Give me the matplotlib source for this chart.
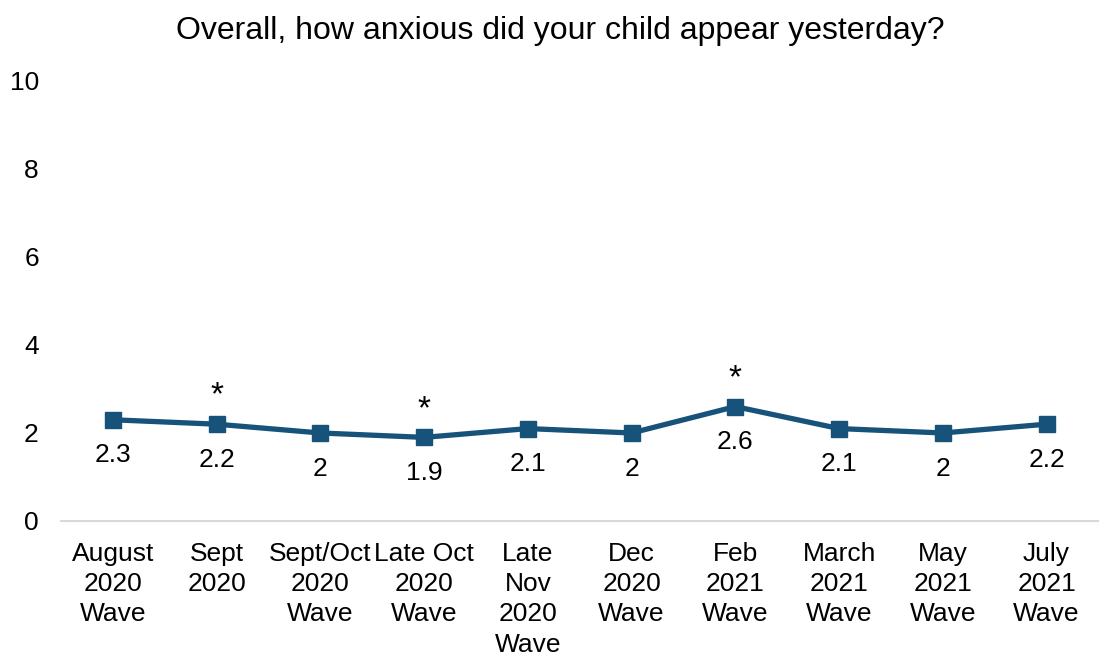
import matplotlib
matplotlib.use("Agg")
import matplotlib.pyplot as plt

waves = ["August\n2020\nWave", "Sept\n2020", "Sept/Oct\n2020\nWave", "Late Oct\n2020\nWave",
         "Late\nNov\n2020\nWave", "Dec\n2020\nWave", "Feb\n2021\nWave", "March\n2021\nWave",
         "May\n2021\nWave", "July\n2021\nWave"]
anxiety = [2.3, 2.2, 2.0, 1.9, 2.1, 2.0, 2.6, 2.1, 2.0, 2.2]
value_labels = ["2.3", "2.2", "2", "1.9", "2.1", "2", "2.6", "2.1", "2", "2.2"]
significant = [False, True, False, True, False, False, True, False, False, False]

plt.rcParams["font.family"] = ["Liberation Sans", "DejaVu Sans"]
color = "#16527A"
fs = 19

fig = plt.figure(figsize=(10.99, 6.55), dpi=100)
ax = fig.add_axes([0.0555, 0.2046, 0.944, 0.6718])
x = list(range(len(waves)))
ax.plot(x, anxiety, color=color, lw=3.8, marker="s", ms=11, zorder=3)

for xi, v, lab, sig in zip(x, anxiety, value_labels, significant):
    ax.annotate(lab, (xi, v), xytext=(0, -17), textcoords="offset points",
                ha="center", va="top", fontsize=fs)
    if sig:
        ax.annotate("*", (xi, v), xytext=(0, 9), textcoords="offset points",
                    ha="center", va="bottom", fontsize=24)

ax.set_xlim(-0.5, len(waves) - 0.5)
ax.set_ylim(0, 10)
ax.set_yticks([0, 2, 4, 6, 8, 10])
ax.set_xticks(x)
ax.set_xticklabels(waves, fontsize=fs, linespacing=1.33)
ax.tick_params(axis="y", labelsize=fs, length=0, pad=16)
ax.tick_params(axis="x", length=0, pad=15)
for s in ["top", "right", "left"]:
    ax.spines[s].set_visible(False)
ax.spines["bottom"].set_color("#D9D9D9")
ax.spines["bottom"].set_linewidth(1.5)

fig.text(0.51, 0.953, "Overall, how anxious did your child appear yesterday?",
         ha="center", va="center", fontsize=23)

fig.savefig("out.png", dpi=100)
